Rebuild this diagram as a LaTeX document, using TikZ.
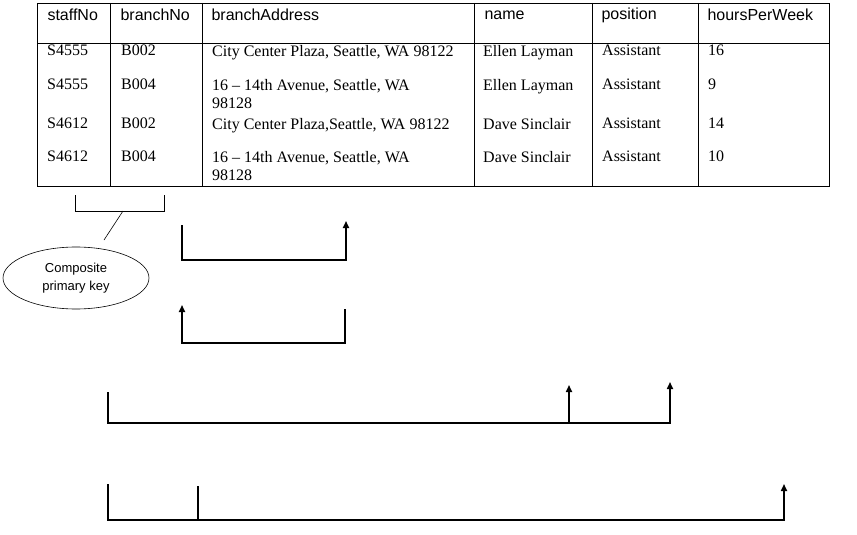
\documentclass[tikz,border=0pt]{standalone}
\usepackage{fontspec}
\setmainfont{Liberation Serif}
\newfontfamily\hdr{Liberation Sans}
\usetikzlibrary{arrows.meta,shapes.geometric}
\tikzset{
 hd/.style={anchor=west,font=\hdr\fontsize{16}{19}\selectfont},
 cell/.style={anchor=north west,font=\fontsize{16}{18}\selectfont,align=left,inner sep=0pt},
 dep/.style={line width=1.6pt},
 deparr/.style={line width=1.6pt,-{Triangle[length=7pt,width=6pt]}},
 thin/.style={line width=0.6pt}
}
\begin{document}
\begin{tikzpicture}[x=1pt,y=-1pt]
\useasboundingbox (0,0) rectangle (857,535);
\draw[thin] (37,3) rectangle (829,186);
\draw[thin] (37,43) -- (829,43);
\foreach \x in {110,202,474,592,698} \draw[thin] (\x,3) -- (\x,186);
\node[hd] (h1) at (44,15) {staffNo};
\node[hd] (h2) at (117,15) {branchNo};
\node[hd] (h3) at (208,15) {branchAddress};
\node[hd] (h4) at (481,15) {name};
\node[hd] (h5) at (598,15) {position};
\node[hd] (h6) at (704,15) {hoursPerWeek};
\foreach \y/\a/\b/\c/\d/\e/\f in {
 45/S4555/B002/{City Center Plaza, Seattle, WA 98122}/Ellen Layman/Assistant/16,
 79/S4555/B004/{16 -- 14th Avenue, Seattle, WA\\98128}/Ellen Layman/Assistant/9,
 118/S4612/B002/{City Center Plaza,Seattle, WA 98122}/Dave Sinclair/Assistant/14,
 151/S4612/B004/{16 -- 14th Avenue, Seattle, WA\\98128}/Dave Sinclair/Assistant/10}{
 \node[cell] at (47,\y) {\a};
 \node[cell] at (121,\y) {\b};
 \node[cell] at (212,\y) {\c};
 \node[cell] at (483,\y) {\d};
 \node[cell] at (602,\y) {\e};
 \node[cell] at (708,\y) {\f};
}
% composite key
\draw[thin] (75,195) -- (75,211) -- (164,211) -- (164,195);
\coordinate (kb) at (123,211);
\coordinate (ke) at (104,240);
\node[draw,thin,ellipse,minimum width=146pt,minimum height=62pt,inner sep=0pt,align=center,font=\hdr\fontsize{13}{18}\selectfont] (ell) at (76,278) {Composite\\primary key};
\draw[thin] (kb) -- (ke);
% deps
\draw[deparr] (182,225) -- (182,260) -- (346,260) -- (346,221);
\draw[deparr] (345,309) -- (345,343) -- (182,343) -- (182,305);
\draw[deparr] (108,392) -- (108,423) -- (670,423) -- (670,382);
\draw[deparr] (569,423) -- (569,385);
\draw[deparr] (108,484) -- (108,520) -- (784,520) -- (784,484);
\draw[dep] (198,486) -- (198,520);
\end{tikzpicture}
\end{document}
